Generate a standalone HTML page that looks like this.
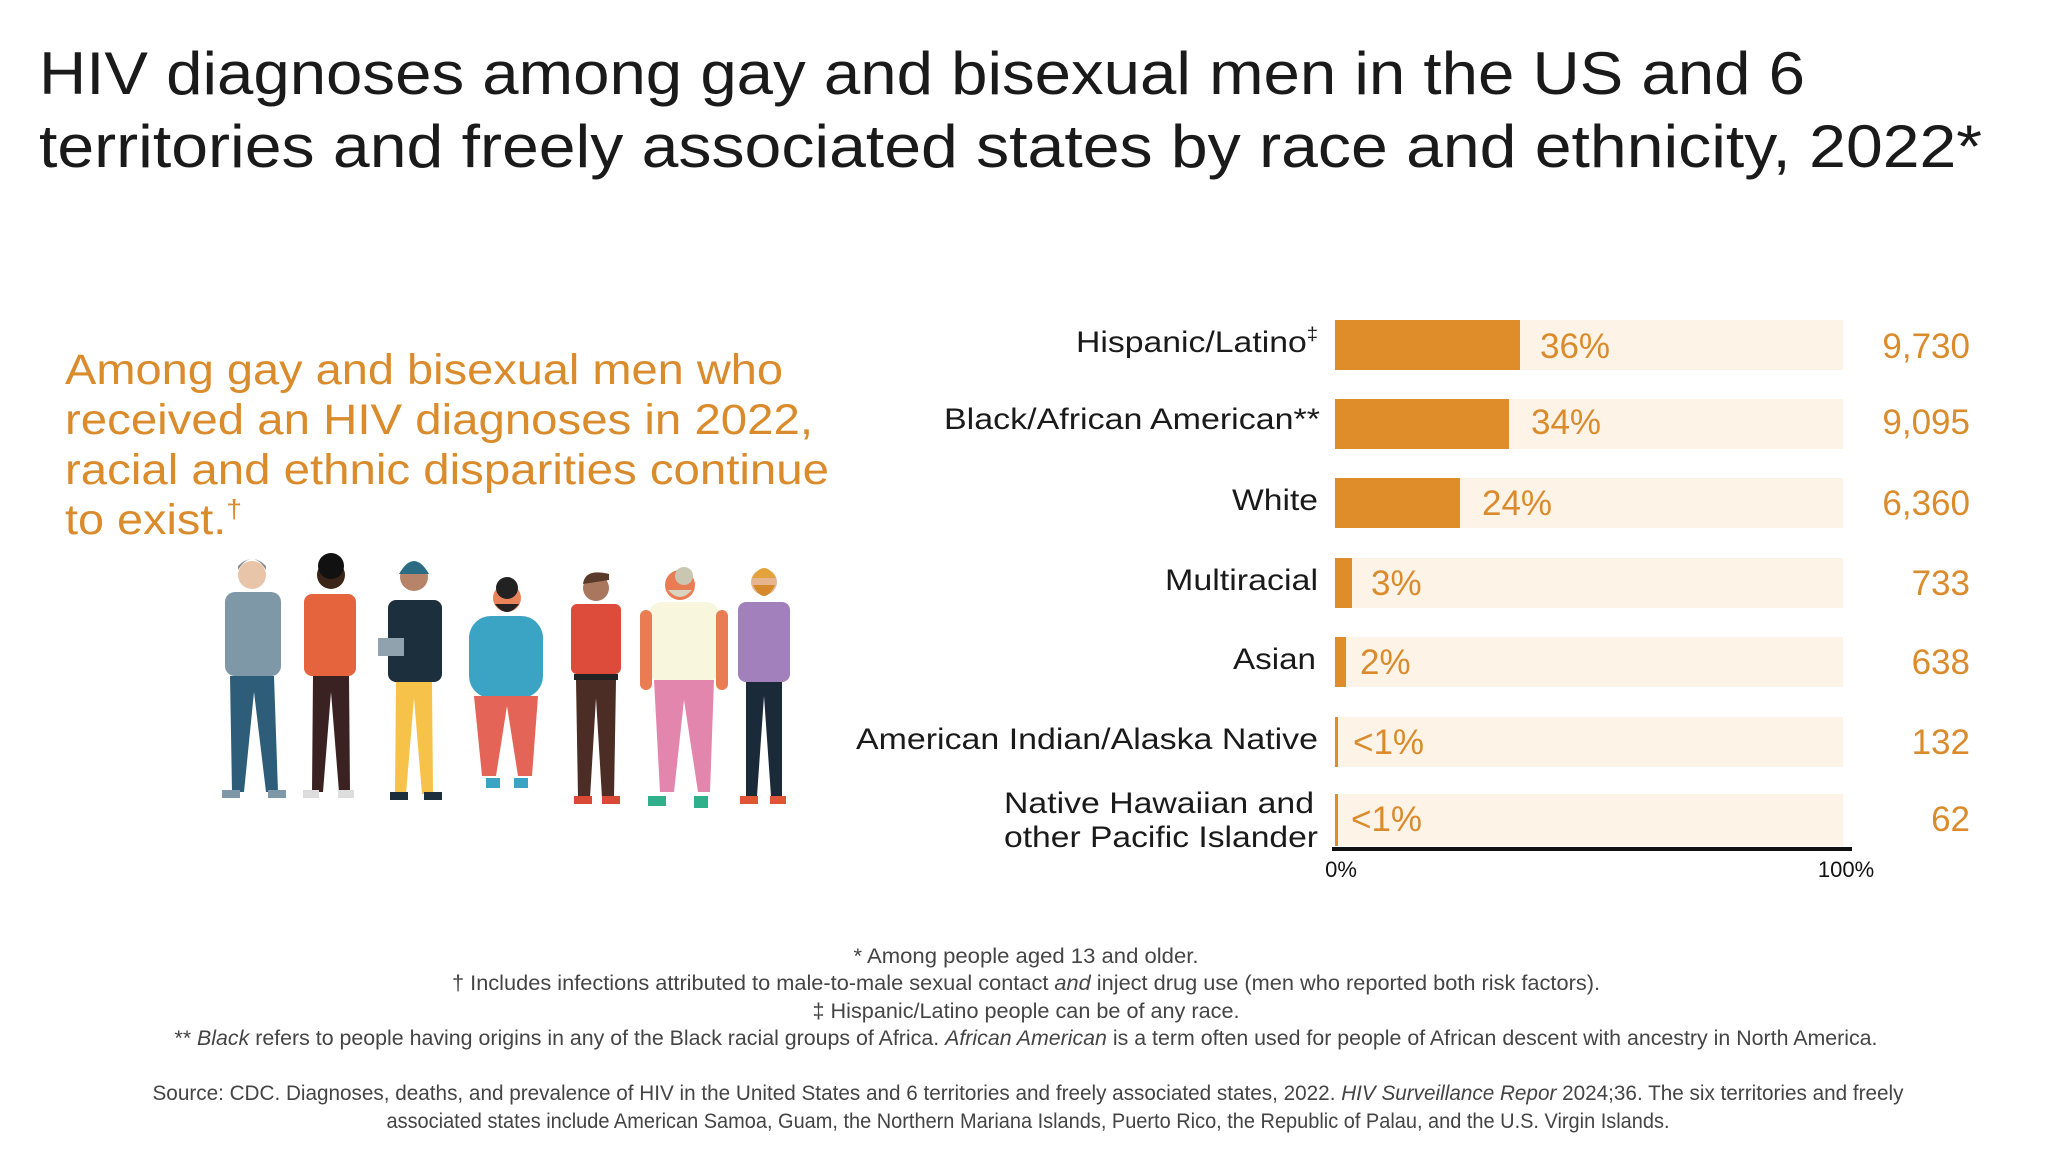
<!DOCTYPE html>
<html><head><meta charset="utf-8"><style>html,body{margin:0;padding:0;background:#fff}svg{display:block}</style></head>
<body>
<svg width="2048" height="1153" viewBox="0 0 2048 1153" xmlns="http://www.w3.org/2000/svg" font-family="Liberation Sans, sans-serif">
<rect width="2048" height="1153" fill="#fff"/>
<g fill="#1a1a1a" font-size="60">
<text x="39" y="94" textLength="1766" lengthAdjust="spacingAndGlyphs">HIV diagnoses among gay and bisexual men in the US and 6</text>
<text x="39" y="167" textLength="1943" lengthAdjust="spacingAndGlyphs">territories and freely associated states by race and ethnicity, 2022*</text>
</g>
<g fill="#DA8B2C" font-size="43">
<text x="65" y="384" textLength="718" lengthAdjust="spacingAndGlyphs">Among gay and bisexual men who</text>
<text x="65" y="434" textLength="748" lengthAdjust="spacingAndGlyphs">received an HIV diagnoses in 2022,</text>
<text x="65" y="484" textLength="764" lengthAdjust="spacingAndGlyphs">racial and ethnic disparities continue</text>
<text x="65" y="534" textLength="177" lengthAdjust="spacingAndGlyphs">to exist.<tspan font-size="26" dy="-16">†</tspan></text>
</g>
<g>
<rect x="1335" y="320" width="508" height="50" fill="#FDF3E7"/><rect x="1335" y="320" width="185" height="50" fill="#DE8D2A"/>
<rect x="1335" y="399" width="508" height="50" fill="#FDF3E7"/><rect x="1335" y="399" width="174" height="50" fill="#DE8D2A"/>
<rect x="1335" y="478" width="508" height="50" fill="#FDF3E7"/><rect x="1335" y="478" width="125" height="50" fill="#DE8D2A"/>
<rect x="1335" y="558" width="508" height="50" fill="#FDF3E7"/><rect x="1335" y="558" width="17" height="50" fill="#DE8D2A"/>
<rect x="1335" y="637" width="508" height="50" fill="#FDF3E7"/><rect x="1335" y="637" width="11" height="50" fill="#DE8D2A"/>
<rect x="1335" y="717" width="508" height="50" fill="#FDF3E7"/><rect x="1335" y="717" width="3" height="50" fill="#DE8D2A"/>
<rect x="1335" y="794" width="508" height="52" fill="#FDF3E7"/><rect x="1335" y="794" width="3" height="52" fill="#DE8D2A"/>
<rect x="1332" y="847" width="520" height="4" fill="#111"/>
</g>
<g fill="#1a1a1a" font-size="30" text-anchor="end">
<text x="1318" y="352" textLength="242" lengthAdjust="spacingAndGlyphs">Hispanic/Latino<tspan font-size="18" dy="-12">‡</tspan></text>
<text x="1320" y="429" textLength="376" lengthAdjust="spacingAndGlyphs">Black/African American**</text>
<text x="1318" y="510" textLength="86" lengthAdjust="spacingAndGlyphs">White</text>
<text x="1318" y="590" textLength="153" lengthAdjust="spacingAndGlyphs">Multiracial</text>
<text x="1316" y="669" textLength="83" lengthAdjust="spacingAndGlyphs">Asian</text>
<text x="1318" y="749" textLength="462" lengthAdjust="spacingAndGlyphs">American Indian/Alaska Native</text>
<text x="1314" y="813" textLength="310" lengthAdjust="spacingAndGlyphs">Native Hawaiian and</text>
<text x="1318" y="847" textLength="314" lengthAdjust="spacingAndGlyphs">other Pacific Islander</text>
</g>
<g fill="#DA8B2C" font-size="35">
<text x="1540" y="358">36%</text>
<text x="1531" y="434">34%</text>
<text x="1482" y="515">24%</text>
<text x="1371" y="595">3%</text>
<text x="1360" y="674">2%</text>
<text x="1353" y="754">&lt;1%</text>
<text x="1351" y="831">&lt;1%</text>
</g>
<g fill="#DA8B2C" font-size="35" text-anchor="end">
<text x="1970" y="358">9,730</text>
<text x="1970" y="434">9,095</text>
<text x="1970" y="515">6,360</text>
<text x="1970" y="595">733</text>
<text x="1970" y="674">638</text>
<text x="1970" y="754">132</text>
<text x="1970" y="831">62</text>
</g>
<g fill="#111" font-size="22" text-anchor="middle">
<text x="1341" y="877">0%</text>
<text x="1846" y="877">100%</text>
</g>
<g>
<circle cx="252" cy="575" r="14" fill="#E8C4A8"/><path d="M238 570 q14 -22 28 0 v-4 q-14 -14 -28 0z" fill="#8C8C8C"/>
<rect x="225" y="592" width="56" height="84" rx="10" fill="#7E98A8"/>
<path d="M230 676 h44 l4 116 h-12 l-12 -100 l-10 100 h-12z" fill="#2E5D7A"/>
<rect x="222" y="790" width="18" height="8" fill="#7E98A8"/><rect x="268" y="790" width="18" height="8" fill="#7E98A8"/>
<circle cx="331" cy="575" r="14" fill="#3B2418"/><circle cx="331" cy="566" r="13" fill="#111"/>
<rect x="304" y="594" width="52" height="82" rx="8" fill="#E5643E"/>
<path d="M313 676 h36 l1 116 h-11 l-8 -100 l-8 100 h-11z" fill="#3A2222"/>
<rect x="303" y="790" width="16" height="8" fill="#ddd"/><rect x="338" y="790" width="16" height="8" fill="#ddd"/>
<circle cx="414" cy="577" r="14" fill="#B7846A"/><path d="M399 574 q15 -26 30 0z" fill="#2B6C84"/>
<rect x="388" y="600" width="54" height="82" rx="8" fill="#1C2F3C"/>
<rect x="378" y="638" width="26" height="18" fill="#8FA2AE"/>
<path d="M396 682 h36 l1 112 h-11 l-8 -96 l-8 96 h-11z" fill="#F6C24A"/>
<rect x="390" y="792" width="18" height="8" fill="#1C2F3C"/><rect x="424" y="792" width="18" height="8" fill="#1C2F3C"/>
<circle cx="507" cy="598" r="14" fill="#E8835A"/><path d="M495 604 q12 16 24 0z" fill="#222"/><circle cx="507" cy="588" r="11" fill="#222"/>
<rect x="469" y="616" width="74" height="82" rx="22" fill="#3BA3C3"/>
<path d="M474 696 h64 l-6 80 h-14 l-11 -70 l-11 70 h-14z" fill="#E46457"/>
<rect x="486" y="778" width="14" height="10" fill="#3BA3C3"/><rect x="514" y="778" width="14" height="10" fill="#3BA3C3"/>
<circle cx="596" cy="588" r="13" fill="#A8775E"/><path d="M583 584 q2 -16 26 -10 v6z" fill="#5A3A2A"/>
<rect x="571" y="604" width="50" height="70" rx="6" fill="#DD4B3B"/>
<rect x="574" y="674" width="44" height="6" fill="#222"/>
<path d="M576 680 h40 l-2 118 h-12 l-6 -100 l-6 100 h-12z" fill="#4B2D26"/>
<rect x="574" y="796" width="18" height="8" fill="#D84A36"/><rect x="602" y="796" width="18" height="8" fill="#D84A36"/>
<circle cx="680" cy="585" r="15" fill="#E97C52"/><path d="M668 590 q12 14 24 0z" fill="#D8D4C0"/><circle cx="684" cy="576" r="9" fill="#C9C6B2"/>
<rect x="648" y="602" width="72" height="80" rx="14" fill="#F8F7DD"/>
<rect x="640" y="610" width="12" height="80" rx="6" fill="#E97C52"/><rect x="716" y="610" width="12" height="80" rx="6" fill="#E97C52"/>
<path d="M654 680 h60 l-4 112 h-12 l-14 -92 l-10 92 h-14z" fill="#E386AE"/>
<rect x="648" y="796" width="18" height="10" fill="#2FAF8A"/><rect x="694" y="796" width="14" height="12" fill="#2FAF8A"/>
<circle cx="764" cy="582" r="13" fill="#E6B590"/><path d="M752 578 q12 -20 24 0z" fill="#E2A33C"/><path d="M753 585 q11 22 22 0z" fill="#D4892A"/>
<rect x="738" y="602" width="52" height="80" rx="8" fill="#A180BB"/>
<path d="M746 682 h36 l0 114 h-11 l-7 -100 l-7 100 h-11z" fill="#1A2A38"/>
<rect x="740" y="796" width="18" height="8" fill="#E05534"/><rect x="770" y="796" width="16" height="8" fill="#E05534"/>
</g>
<g fill="#444" font-size="21" text-anchor="middle">
<text x="1026" y="963" textLength="345" lengthAdjust="spacingAndGlyphs">* Among people aged 13 and older.</text>
<text x="1026" y="990" textLength="1148" lengthAdjust="spacingAndGlyphs">† Includes infections attributed to male-to-male sexual contact <tspan font-style="italic">and</tspan> inject drug use (men who reported both risk factors).</text>
<text x="1026" y="1018" textLength="427" lengthAdjust="spacingAndGlyphs">‡ Hispanic/Latino people can be of any race.</text>
<text x="1026" y="1045" textLength="1703" lengthAdjust="spacingAndGlyphs">** <tspan font-style="italic">Black</tspan> refers to people having origins in any of the Black racial groups of Africa. <tspan font-style="italic">African American</tspan> is a term often used for people of African descent with ancestry in North America.</text>
<text x="1028" y="1100" textLength="1751" lengthAdjust="spacingAndGlyphs">Source: CDC. Diagnoses, deaths, and prevalence of HIV in the United States and 6 territories and freely associated states, 2022. <tspan font-style="italic">HIV Surveillance Repor</tspan> 2024;36. The six territories and freely</text>
<text x="1028" y="1128" textLength="1283" lengthAdjust="spacingAndGlyphs">associated states include American Samoa, Guam, the Northern Mariana Islands, Puerto Rico, the Republic of Palau, and the U.S. Virgin Islands.</text>
</g>
</svg>
</body></html>
